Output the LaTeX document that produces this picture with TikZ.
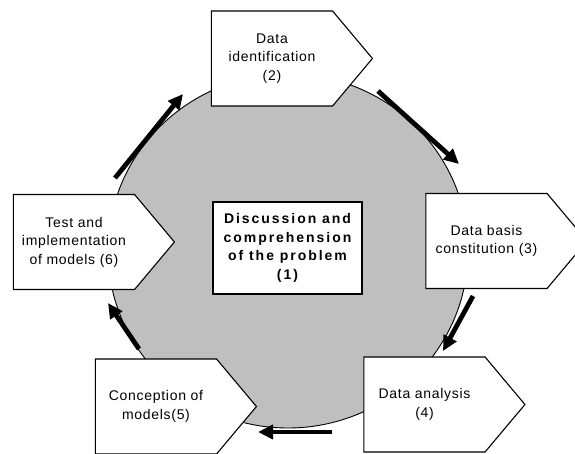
\documentclass[tikz,border=0pt]{standalone}
\usepackage{fontspec}
\setmainfont{Liberation Sans}[LetterSpace=5]
\newfontfamily\probfont{Liberation Sans}[LetterSpace=14]
\usetikzlibrary{shapes.symbols,arrows.meta}

\begin{document}
\begin{tikzpicture}[x=1pt, y=-1pt,
    stepbox/.style={signal, signal to=east, signal pointer angle=100, draw, fill=white,
        line width=1.1pt, minimum width=161pt, minimum height=95pt, inner sep=0pt,
        align=center, font=\fontsize{14}{18.5}\selectfont},
    probbox/.style={draw, fill=white, line width=1.3pt, minimum width=149pt, minimum height=92pt,
        align=center, font=\probfont\bfseries\fontsize{14}{18.5}\selectfont},
    flow/.style={line width=4.8pt, -{Triangle[length=15pt, width=14pt]}}]
    \useasboundingbox (0,0) rectangle (575,454);

    % the big disc
    \draw[fill=black!25, line width=0.9pt] (288,251) ellipse [x radius=180pt, y radius=177pt];

    \node[probbox] (prob) at (287.5,248) {Discussion and\\comprehension\\of the problem\\(1)};

    % steps round the disc
    \node[stepbox] (ident) at (272,58.5) {Data\\identification\\(2)};
    \node[stepbox] (basis) at (486.5,241) {Data basis\\constitution (3)};
    \node[stepbox] (anal) at (424.5,404.5) {Data analysis\\(4)};
    \node[stepbox] (concep) at (156,406.5) {Conception of\\models(5)};
    \node[stepbox] (test) at (74,242) {Test and\\implementation\\of models (6)};

    % arrow ends
    \coordinate (s1) at (115,178);
    \coordinate (e1) at (183,94);
    \coordinate (s2) at (378,91);
    \coordinate (e2) at (459,164);
    \coordinate (s3) at (473,296);
    \coordinate (e3) at (443,351);
    \coordinate (s4) at (332,432);
    \coordinate (e4) at (258,432);
    \coordinate (s5) at (139,349);
    \coordinate (e5) at (108,303);

    \draw[flow] (s1) -- (e1);
    \draw[flow] (s2) -- (e2);
    \draw[flow] (s3) -- (e3);
    \draw[flow] (s4) -- (e4);
    \draw[flow] (s5) -- (e5);
\end{tikzpicture}
\end{document}
